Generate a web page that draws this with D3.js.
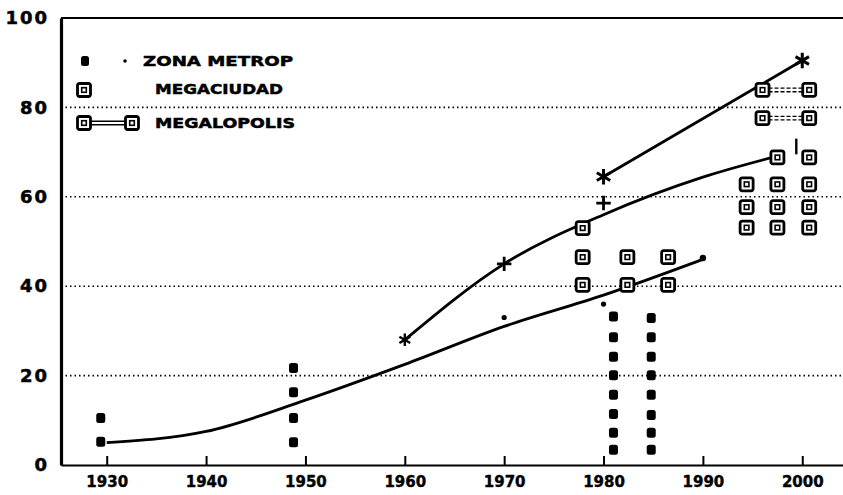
<!DOCTYPE html>
<html>
<head>
<meta charset="utf-8">
<script src="https://cdn.jsdelivr.net/npm/d3@7"></script>
<style>
  html, body { margin: 0; padding: 0; background: #fff; }
  svg { display: block; }
  text { font-family: "DejaVu Sans", sans-serif; font-weight: bold; fill: #000; }
</style>
</head>
<body>
<svg id="chart" width="843" height="495"></svg>
<script>
// tick labels
const yTicks = [0, 20, 40, 60, 80, 100];
const xTicks = [1930, 1940, 1950, 1960, 1970, 1980, 1990, 2000];

// lower smooth curve
const trendYears = [1930, 1940, 1950, 1960, 1970, 1980, 1990];
const trendValues = [5, 7.5, 14.5, 22.5, 31, 38, 46];
const trendDotYears = [1970, 1980, 1990];
const trendDotValues = [33, 36, 46.3];

// upper curve with + marks
const crossYears = [1960, 1970, 1980, 1990, 1997.3];
const crossValues = [28, 45, 56, 64.4, 69];
const crossMarkYears = [1970, 1980];
const crossMarkValues = [45, 58.6];

// star line
const starYears = [1980, 2000];
const starValues = [64.5, 90.5];

// ZONA METROP points [year, value]
const zonaMetrop = [
  [1929.4, 10.5], [1929.4, 5.2],
  [1948.8, 21.7], [1948.8, 16.3], [1948.8, 10.5], [1948.8, 5.1],
  [1981, 33.2], [1981, 28.6], [1981, 24.2], [1981, 20.1], [1981, 15.7], [1981, 11.4], [1981, 7.2], [1981, 3.4],
  [1984.8, 32.9], [1984.8, 28.6], [1984.8, 24.2], [1984.8, 20.1], [1984.8, 15.7], [1984.8, 11.2], [1984.8, 7.2], [1984.8, 3.4]
];

// MEGACIUDAD points [year, value]
const megaciudad = [
  [1977.9, 53], [1977.9, 46.5], [1977.9, 40.3],
  [1982.4, 46.5], [1982.4, 40.3],
  [1986.5, 46.5], [1986.5, 40.3],
  [1994.4, 62.8], [1994.4, 57.7], [1994.4, 53.1],
  [1997.5, 68.8], [1997.5, 62.8], [1997.5, 57.7], [1997.5, 53.1],
  [2000.7, 68.8], [2000.7, 62.8], [2000.7, 57.7], [2000.7, 53.1]
];

// MEGALOPOLIS pairs [fromYear, toYear, value]
const megalopolis = [[1996, 2000.7, 83.9], [1996, 2000.7, 77.6]];

const legendLabels = ['ZONA METROP', 'MEGACIUDAD', 'MEGALOPOLIS'];

const svg = d3.select('#chart');

/**
 * SCALES
 */
const x = d3.scaleLinear().domain([1925.4, 2004.1]).range([61, 843]);
const y = d3.scaleLinear().domain([0, 100]).range([465, 18]);

/**
 * GRID
 */
svg.append('g')
  .selectAll('line')
  .data(yTicks.filter((d) => d > 0 && d < 100))
  .join('line')
  .attr('x1', 61)
  .attr('x2', 843)
  .attr('y1', (d) => y(d))
  .attr('y2', (d) => y(d))
  .attr('stroke', '#000')
  .attr('stroke-width', 1.6)
  .attr('stroke-dasharray', '1.5,3');

// top frame line
svg.append('line')
  .attr('x1', 61).attr('x2', 843)
  .attr('y1', y(100)).attr('y2', y(100))
  .attr('stroke', '#000').attr('stroke-width', 2);

/**
 * AXES
 */
const gY = svg.append('g')
  .attr('transform', 'translate(61,0)')
  .call(d3.axisLeft(y).tickValues(yTicks).tickSize(0).tickPadding(12));
gY.select('.domain').attr('stroke-width', 3.2);
gY.selectAll('text')
  .attr('font-family', '"DejaVu Sans", sans-serif')
  .attr('font-weight', 'bold')
  .attr('font-size', 18)
  .attr('letter-spacing', 2)
  .attr('stroke', '#000')
  .attr('stroke-width', 0.5);

const gX = svg.append('g')
  .attr('transform', 'translate(0,465)')
  .call(d3.axisBottom(x).tickValues(xTicks).tickFormat(d3.format('d'))
    .tickSizeInner(-9).tickSizeOuter(0).tickPadding(11));
gX.select('.domain').attr('stroke-width', 2.2);
gX.selectAll('.tick line').attr('stroke-width', 2);
gX.selectAll('text')
  .attr('font-family', '"DejaVu Sans", sans-serif')
  .attr('font-weight', 'bold')
  .attr('font-size', 15)
  .attr('stroke', '#000')
  .attr('stroke-width', 0.4);

/**
 * CURVES
 */
const trend = trendYears.map((d, i) => [d, trendValues[i]]);
const cross = crossYears.map((d, i) => [d, crossValues[i]]);
const star = starYears.map((d, i) => [d, starValues[i]]);

const line = d3.line()
  .curve(d3.curveMonotoneX)
  .x((d) => x(d[0]))
  .y((d) => y(d[1]));

[trend, cross, star].forEach((s) => {
  svg.append('path')
    .attr('d', line(s))
    .attr('fill', 'none')
    .attr('stroke', '#000')
    .attr('stroke-width', 2.8);
});

// small dots along the lower curve
svg.append('g')
  .selectAll('circle')
  .data(trendDotYears)
  .join('circle')
  .attr('cx', (d) => x(d))
  .attr('cy', (d, i) => y(trendDotValues[i]))
  .attr('r', (d, i) => (i === trendDotYears.length - 1 ? 3.2 : 2.6))
  .attr('fill', '#000');

// + marks
svg.append('g')
  .selectAll('path')
  .data(crossMarkYears)
  .join('path')
  .attr('transform', (d, i) => `translate(${x(d)},${y(crossMarkValues[i])})`)
  .attr('d', d3.symbol(d3.symbolPlus, 70))
  .attr('fill', 'none')
  .attr('stroke', '#000')
  .attr('stroke-width', 2.8);

// start mark of the + curve
svg.append('path')
  .attr('transform', `translate(${x(crossYears[0])},${y(crossValues[0])})`)
  .attr('d', d3.symbol(d3.symbolAsterisk, 110))
  .attr('fill', 'none')
  .attr('stroke', '#000')
  .attr('stroke-width', 2.4);

// end tick at 2000
svg.append('line')
  .attr('x1', x(1999.4)).attr('x2', x(1999.4))
  .attr('y1', y(73)).attr('y2', y(69.5))
  .attr('stroke', '#000').attr('stroke-width', 2.4);

// stars
svg.append('g')
  .selectAll('path')
  .data(star)
  .join('path')
  .attr('transform', (d) => `translate(${x(d[0])},${y(d[1])})`)
  .attr('d', d3.symbol(d3.symbolAsterisk, 170))
  .attr('fill', 'none')
  .attr('stroke', '#000')
  .attr('stroke-width', 3);

/**
 * POINT MARKERS
 */
svg.append('g')
  .selectAll('rect')
  .data(zonaMetrop)
  .join('rect')
  .attr('x', (d) => x(d[0]) - 4.5)
  .attr('y', (d) => y(d[1]) - 5)
  .attr('width', 9)
  .attr('height', 10)
  .attr('rx', 2.5)
  .attr('fill', '#000');

function drawBox(sel) {
  sel.append('rect')
    .attr('x', -6.5).attr('y', -6.5)
    .attr('width', 13).attr('height', 13)
    .attr('rx', 2)
    .attr('fill', '#fff')
    .attr('stroke', '#000')
    .attr('stroke-width', 2.8);
  sel.append('rect')
    .attr('x', -2.3).attr('y', -2.3)
    .attr('width', 4.6).attr('height', 4.6)
    .attr('fill', 'none')
    .attr('stroke', '#000')
    .attr('stroke-width', 1.6);
}

const megaG = svg.append('g')
  .selectAll('g')
  .data(megaciudad)
  .join('g')
  .attr('transform', (d) => `translate(${x(d[0])},${y(d[1])})`);
drawBox(megaG);

const lopG = svg.append('g')
  .selectAll('g')
  .data(megalopolis)
  .join('g');
lopG.each(function (d) {
  const g = d3.select(this);
  [-1.8, 1.8].forEach((off) => {
    g.append('line')
      .attr('x1', x(d[0])).attr('x2', x(d[1]))
      .attr('y1', y(d[2]) + off).attr('y2', y(d[2]) + off)
      .attr('stroke', '#000')
      .attr('stroke-width', 1.3)
      .attr('stroke-dasharray', '4,2');
  });
  drawBox(g.append('g').attr('transform', `translate(${x(d[0])},${y(d[2])})`));
  drawBox(g.append('g').attr('transform', `translate(${x(d[1])},${y(d[2])})`));
});

/**
 * LEGEND
 */
const legend = svg.append('g');

legend.append('rect')
  .attr('x', 81).attr('y', 56).attr('width', 8).attr('height', 10).attr('rx', 2.5)
  .attr('fill', '#000');
legend.append('circle').attr('cx', 125).attr('cy', 61).attr('r', 1.8).attr('fill', '#000');

drawBox(legend.append('g').attr('transform', 'translate(84,90)'));

[-1.8, 1.8].forEach((off) => {
  legend.append('line')
    .attr('x1', 90).attr('x2', 126)
    .attr('y1', 123 + off).attr('y2', 123 + off)
    .attr('stroke', '#000').attr('stroke-width', 1.4);
});
drawBox(legend.append('g').attr('transform', 'translate(84,123)'));
drawBox(legend.append('g').attr('transform', 'translate(132,123)'));

const legendPos = [[143, 66, 150], [155, 94, 128], [155, 127.5, 140]];
legend.selectAll('text')
  .data(legendLabels)
  .join('text')
  .attr('x', (d, i) => legendPos[i][0])
  .attr('y', (d, i) => legendPos[i][1])
  .attr('textLength', (d, i) => legendPos[i][2])
  .attr('lengthAdjust', 'spacingAndGlyphs')
  .attr('font-size', 14)
  .attr('stroke', '#000')
  .attr('stroke-width', 0.5)
  .text((d) => d);
</script>
</body>
</html>
